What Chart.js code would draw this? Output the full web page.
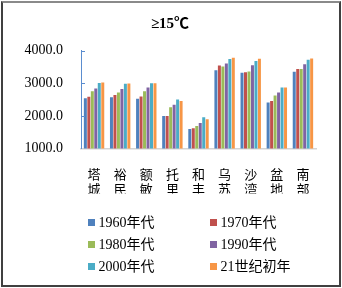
<!DOCTYPE html>
<html>
<head>
<meta charset="utf-8">
<script src="https://cdn.jsdelivr.net/npm/chart.js@4/dist/chart.umd.min.js"></script>
<style>
  html, body { margin: 0; padding: 0; background: #fff; }
  #wrap { position: relative; width: 342px; height: 288px; overflow: hidden; }
  #frame { position: absolute; left: 1px; top: 1px; width: 336px; height: 282px;
           border: 2px solid #404040; border-top-color: #8a8a8a; pointer-events: none; }
  canvas { position: absolute; left: 0; top: 0; }
  .lg { position: absolute; font-family: 'Liberation Serif', 'Noto Sans CJK SC', serif; font-size: 14px;
        color: #000; line-height: 16px; white-space: nowrap; }
  .lg i { position: absolute; width: 7px; height: 7px; top: 4.5px; }
</style>
</head>
<body>
<div id="wrap">
  <canvas id="c" width="342" height="288"></canvas>
  <div id="legend"></div>
  <div id="frame"></div>
</div>
<script>
const categories = ['塔城', '裕民', '额敏', '托里', '和丰', '乌苏', '沙湾', '盆地', '南部'];
const seriesNames = ['1960年代', '1970年代', '1980年代', '1990年代', '2000年代', '21世纪初年'];
const seriesColors = ['#4F81BD', '#C0504D', '#9BBB59', '#8064A2', '#4BACC6', '#F79646'];
const v1960 = [2540, 2570, 2525, 2000, 1600, 3400, 3325, 2415, 3355];
const v1970 = [2590, 2640, 2600, 2000, 1620, 3550, 3345, 2455, 3440];
const v1980 = [2760, 2720, 2760, 2270, 1690, 3520, 3365, 2630, 3440];
const v1990 = [2845, 2825, 2875, 2340, 1785, 3610, 3560, 2720, 3590];
const v2000 = [3015, 2985, 3005, 2505, 1960, 3745, 3690, 2875, 3725];
const v21c  = [3025, 2995, 3005, 2455, 1900, 3785, 3755, 2875, 3765];
const yTicks = [1000, 2000, 3000, 4000];
const titleText = '≥15℃';

const seriesValues = [v1960, v1970, v1980, v1990, v2000, v21c];
const FONT = "'Liberation Serif', 'Noto Sans CJK SC', serif";
const AXIS_BLUE = '#5b8dcf';

const insideTicks = {
  id: 'insideTicks',
  afterDraw(chart) {
    const s = chart.scales.y;
    const ctx = chart.ctx;
    ctx.save();
    ctx.strokeStyle = AXIS_BLUE;
    ctx.lineWidth = 1;
    s.ticks.forEach(t => {
      if (t.value === s.min) return;
      const y = Math.round(s.getPixelForValue(t.value)) + 0.5;
      ctx.beginPath();
      ctx.moveTo(chart.chartArea.left, y);
      ctx.lineTo(chart.chartArea.left + 4, y);
      ctx.stroke();
    });
    ctx.restore();
  }
};

new Chart(document.getElementById('c'), {
  type: 'bar',
  data: {
    labels: categories.map(c => c.split('')),
    datasets: seriesNames.map((n, i) => ({
      label: n,
      data: seriesValues[i],
      backgroundColor: seriesColors[i],
      borderWidth: 0,
      categoryPercentage: 0.8,
      barPercentage: 0.86
    }))
  },
  options: {
    responsive: false,
    animation: false,
    devicePixelRatio: 1,
    layout: { padding: { left: 24, right: 26, top: 0, bottom: 94.5 } },
    plugins: {
      legend: { display: false },
      tooltip: { enabled: false },
      title: {
        display: true,
        text: titleText,
        color: '#000',
        font: { family: FONT, size: 15, weight: 'bold', lineHeight: 1.2 },
        padding: { top: 15, bottom: 17.8 }
      }
    },
    scales: {
      x: {
        grid: { display: false },
        border: { display: true, color: '#d4d4d4', width: 1.5 },
        ticks: {
          color: '#000',
          font: { family: FONT, size: 13, lineHeight: '15px' },
          padding: 12,
          maxRotation: 0,
          minRotation: 0,
          autoSkip: false
        },
        afterFit: s => { s.height = 45; }
      },
      y: {
        min: 1000,
        max: 4000,
        grid: { display: false, drawTicks: false },
        border: { display: true, color: AXIS_BLUE, width: 1 },
        afterBuildTicks: s => { s.ticks = yTicks.map(v => ({ value: v })); },
        ticks: {
          color: '#000',
          font: { family: FONT, size: 14 },
          padding: 18,
          callback: v => Number(v).toFixed(1)
        },
        afterFit: s => { s.width = 57; }
      }
    }
  },
  plugins: [insideTicks]
});

// HTML legend (2 columns x 3 rows)
const lg = document.getElementById('legend');
const colX = [87.5, 209.5];
const rowY = [222.5, 244.5, 266.5];
seriesNames.forEach((n, i) => {
  const d = document.createElement('div');
  d.className = 'lg';
  d.style.left = colX[i % 2] + 'px';
  d.style.top = (rowY[Math.floor(i / 2)] - 8) + 'px';
  d.style.paddingLeft = '11px';
  const b = document.createElement('i');
  b.style.left = '0px';
  b.style.background = seriesColors[i];
  d.appendChild(b);
  d.appendChild(document.createTextNode(n));
  lg.appendChild(d);
});
</script>
</body>
</html>
